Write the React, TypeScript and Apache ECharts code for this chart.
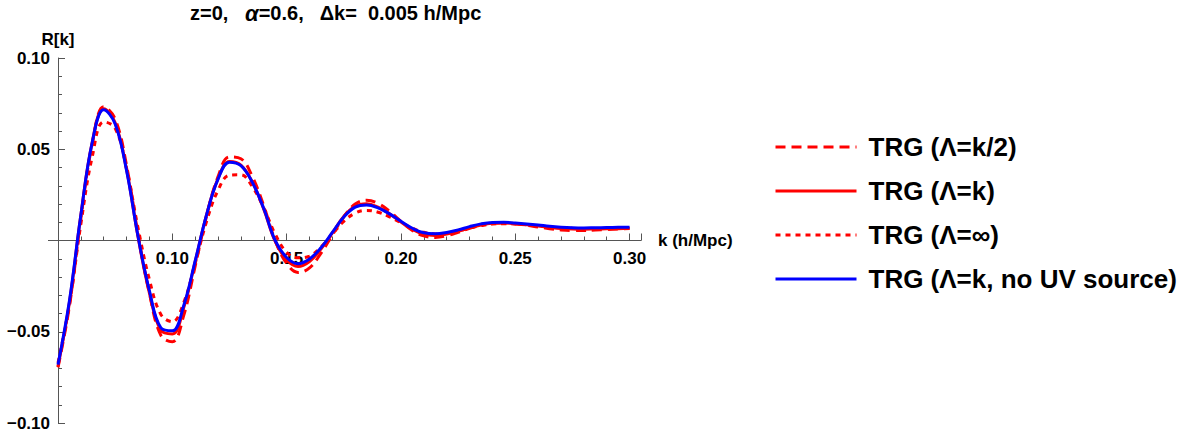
import React, { useEffect, useRef } from "react";
import * as echarts from "echarts";

const kValues = [
  0.05, 0.055, 0.06, 0.065, 0.07, 0.075, 0.08, 0.085, 0.09, 0.095,
  0.1, 0.105, 0.11, 0.115, 0.12, 0.125, 0.13, 0.135, 0.14, 0.145,
  0.15, 0.155, 0.16, 0.165, 0.17, 0.175, 0.18, 0.185, 0.19, 0.195,
  0.2, 0.205, 0.21, 0.215, 0.22, 0.225, 0.23, 0.235, 0.24, 0.245,
  0.25, 0.255, 0.26, 0.265, 0.27, 0.275, 0.28, 0.285, 0.29, 0.295, 0.3,
];

// TRG (Λ=k/2) – dashed red
const rHalfK = [
  -0.0695, -0.036, 0.012, 0.053, 0.0733, 0.0665, 0.041, 0.0035, -0.029, -0.052,
  -0.0555, -0.041, -0.014, 0.0135, 0.035, 0.0458, 0.0448, 0.035, 0.019, 0.0,
  -0.0125, -0.0175, -0.015, -0.007, 0.003, 0.013, 0.02, 0.022, 0.0203, 0.016,
  0.0105, 0.0055, 0.0025, 0.0017, 0.0026, 0.0045, 0.0067, 0.0085, 0.0095, 0.0097,
  0.0092, 0.0084, 0.0074, 0.0065, 0.0058, 0.0055, 0.0055, 0.0057, 0.006, 0.0063, 0.0066,
];

// TRG (Λ=k) – solid red
const rK = [
  -0.069, -0.034, 0.014, 0.054, 0.0722, 0.0645, 0.0388, 0.002, -0.0288, -0.0492,
  -0.0512, -0.0368, -0.0116, 0.0142, 0.0339, 0.0433, 0.0413, 0.032, 0.0172, -0.0005,
  -0.0106, -0.0143, -0.0115, -0.0047, 0.0042, 0.0131, 0.0189, 0.0202, 0.0183, 0.0146,
  0.0101, 0.006, 0.0034, 0.0028, 0.0035, 0.005, 0.0069, 0.0085, 0.0094, 0.0096,
  0.0092, 0.0086, 0.0079, 0.0072, 0.0066, 0.0063, 0.0062, 0.0063, 0.0064, 0.0065, 0.0067,
];

// TRG (Λ=∞) – dotted red
const rInf = [
  -0.067, -0.035, 0.009, 0.046, 0.065, 0.0615, 0.0395, 0.007, -0.0215, -0.0405,
  -0.0445, -0.034, -0.0125, 0.0105, 0.0275, 0.0358, 0.036, 0.0295, 0.0178, 0.0035,
  -0.0065, -0.0095, -0.0085, -0.0035, 0.0035, 0.0105, 0.015, 0.0165, 0.0155, 0.013,
  0.0098, 0.0068, 0.0045, 0.0036, 0.004, 0.0052, 0.0068, 0.0081, 0.009, 0.0092,
  0.009, 0.0086, 0.008, 0.0074, 0.007, 0.0067, 0.0066, 0.0066, 0.0067, 0.0068, 0.0069,
];

// TRG (Λ=k, no UV source) – solid blue
const rNoUV = [
  -0.068, -0.033, 0.014, 0.054, 0.0716, 0.0638, 0.0383, 0.0023, -0.0276, -0.0478,
  -0.0495, -0.0356, -0.0112, 0.0142, 0.0336, 0.0429, 0.041, 0.0319, 0.0175, 0.0,
  -0.0093, -0.0127, -0.0101, -0.004, 0.0044, 0.0129, 0.0183, 0.0195, 0.0179, 0.0146,
  0.0105, 0.0067, 0.0042, 0.0037, 0.0044, 0.0058, 0.0076, 0.0091, 0.0099, 0.01,
  0.0096, 0.0091, 0.0085, 0.0078, 0.0073, 0.007, 0.0069, 0.007, 0.0071, 0.0072, 0.0073,
];

const seriesNames = [
  "TRG (Λ=k/2)",
  "TRG (Λ=k)",
  "TRG (Λ=∞)",
  "TRG (Λ=k, no UV source)",
];

const FONT = "'Liberation Sans', Arial, Helvetica, sans-serif";
const AXIS_COLOR = "#555";
const GRID_TOP = 58;
const GRID_HEIGHT = 365;

const pair = (ys: number[]) => kValues.map((k, i) => [k, ys[i]]);

export default function App() {
  const ref = useRef<HTMLDivElement>(null);

  useEffect(() => {
    document.body.style.margin = "0";
    if (!ref.current) return;
    const chart = echarts.init(ref.current, null, { renderer: "svg" });

    const lineSeries = (name: string, data: number[], color: string, type: any) => ({
      name,
      type: "line",
      data: pair(data),
      smooth: 0.4,
      symbol: "none",
      showSymbol: false,
      lineStyle: { color, width: 3, type },
      itemStyle: { color },
      emphasis: { disabled: true },
    });

    chart.setOption({
      animation: false,
      title: {
        text: "{t|z=0,   }{a|α}{t|=0.6,   Δk=  0.005 h/Mpc}",
        left: 190,
        top: 1,
        padding: 0,
        textStyle: {
          rich: {
            t: { fontFamily: FONT, fontWeight: "bold", fontSize: 20, lineHeight: 24, color: "#000" },
            a: { fontFamily: FONT, fontWeight: "bold", fontStyle: "italic", fontSize: 22, lineHeight: 24, color: "#000" },
          },
        },
      },
      legend: {
        orient: "vertical",
        left: 769,
        top: 129,
        itemWidth: 81,
        itemHeight: 14,
        itemGap: 18,
        data: seriesNames,
        itemStyle: { opacity: 0 },
        lineStyle: { width: 3 },
        textStyle: {
          fontFamily: FONT,
          fontWeight: "bold",
          fontSize: 26,
          lineHeight: 26,
          color: "#000",
          padding: [0, 0, 0, 7],
        },
        selectedMode: false,
      },
      grid: {
        left: 58,
        top: GRID_TOP,
        width: 583,
        height: GRID_HEIGHT,
        containLabel: false,
        outerBoundsMode: "none",
      },
      xAxis: {
        type: "value",
        position: "bottom",
        offset: -GRID_HEIGHT / 2,
        min: 0.05,
        max: 0.305,
        interval: 0.05,
        name: "k (h/Mpc)",
        nameLocation: "end",
        nameGap: 17,
        nameTextStyle: { fontFamily: FONT, fontWeight: "bold", fontSize: 17, color: "#000", verticalAlign: "middle" },
        axisLine: { onZero: false, lineStyle: { color: AXIS_COLOR, width: 1 } },
        axisTick: { inside: true, length: 7, lineStyle: { color: AXIS_COLOR } },
        minorTick: { show: true, splitNumber: 5, length: 4, lineStyle: { color: AXIS_COLOR } },
        splitLine: { show: false },
        axisLabel: {
          margin: 9,
          fontFamily: FONT,
          fontWeight: "bold",
          fontSize: 17,
          color: "#000",
          showMaxLabel: false,
          formatter: (v: number) => (Math.abs(v - 0.05) < 1e-6 || v > 0.301 ? "" : v.toFixed(2)),
        },
      },
      yAxis: {
        type: "value",
        min: -0.1,
        max: 0.1,
        interval: 0.05,
        name: "R[k]",
        nameLocation: "end",
        nameGap: 10,
        nameTextStyle: { fontFamily: FONT, fontWeight: "bold", fontSize: 17, color: "#000", align: "center" },
        axisLine: { onZero: false, lineStyle: { color: AXIS_COLOR, width: 1 } },
        axisTick: { inside: true, length: 7, lineStyle: { color: AXIS_COLOR } },
        minorTick: { show: true, splitNumber: 5, length: 4, lineStyle: { color: AXIS_COLOR } },
        splitLine: { show: false },
        axisLabel: {
          margin: 8,
          fontFamily: FONT,
          fontWeight: "bold",
          fontSize: 17,
          color: "#000",
          formatter: (v: number) => (Math.abs(v) < 1e-9 ? "" : v.toFixed(2).replace("-", "−")),
        },
      },
      graphic: [
        {
          type: "line",
          shape: { x1: 48, y1: GRID_TOP + GRID_HEIGHT / 2, x2: 58, y2: GRID_TOP + GRID_HEIGHT / 2 },
          style: { stroke: AXIS_COLOR, lineWidth: 1 },
          silent: true,
        },
      ],
      series: [
        lineSeries(seriesNames[0], rHalfK, "#ff0000", [10, 6]),
        lineSeries(seriesNames[1], rK, "#ff0000", "solid"),
        lineSeries(seriesNames[2], rInf, "#ff0000", [5, 5]),
        lineSeries(seriesNames[3], rNoUV, "#0000ff", "solid"),
      ],
    });

    return () => chart.dispose();
  }, []);

  return <div ref={ref} style={{ width: 1186, height: 436 }} />;
}
